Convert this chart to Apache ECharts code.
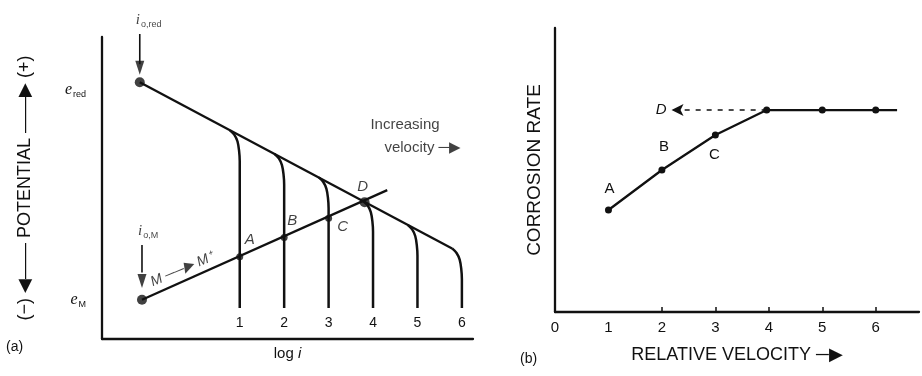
<!DOCTYPE html>
<html>
<head>
<meta charset="utf-8">
<script src="https://cdn.jsdelivr.net/npm/echarts@6/dist/echarts.min.js"></script>
<style>
  html, body { margin: 0; padding: 0; background: #fff; }
  #chart { width: 922px; height: 376px; }
</style>
</head>
<body>
<div id="chart"></div>
<script>
// (a) potential vs log i, arbitrary units
const logTicks = [1, 2, 3, 4, 5, 6];
const reductionLine = [[-1.25, 8.5], [5.78, 3.0]];
const oxidationLine = [[-1.2, 1.3], [4.32, 4.93]];
// one limiting-current branch per velocity (bends off the reduction line, then drops)
const branches = [
  [[0.78, 6.91], [0.88, 6.76], [0.95, 6.54], [0.985, 6.24], [1, 5.89], [1, 1.03]],
  [[1.78, 6.13], [1.88, 5.98], [1.95, 5.76], [1.985, 5.46], [2, 5.11], [2, 1.03]],
  [[2.78, 5.35], [2.88, 5.2], [2.95, 4.98], [2.985, 4.68], [3, 4.33], [3, 1.03]],
  [[3.78, 4.57], [3.88, 4.42], [3.95, 4.2], [3.985, 3.9], [4, 3.55], [4, 1.03]],
  [[4.78, 3.78], [4.88, 3.63], [4.95, 3.41], [4.985, 3.11], [5, 2.76], [5, 1.03]],
  [[5.78, 3.0], [5.88, 2.85], [5.95, 2.63], [5.985, 2.33], [6, 1.98], [6, 1.03]]
];
const startPoints = [[-1.25, 8.5], [-1.2, 1.3]];
const crossNames = ['A', 'B', 'C', 'D'];
const crossPoints = [[1, 2.72], [2, 3.36], [3, 4.0], [3.81, 4.53]];
const potentialMarks = [8.25, 1.3];
const potentialSubs = ['red', 'M'];
const ioRedArrow = [[-1.25, 10.1], [-1.25, 9.1]];
const ioMArrow = [[-1.2, 3.11], [-1.2, 2.2]];
const arrowHeads = [[-1.25, 8.98], [-1.2, 1.92]];

// (b) corrosion rate vs relative velocity
const velocityTicks = [0, 1, 2, 3, 4, 5, 6];
const velocity = [1, 2, 3, 3.96, 5, 6, 6.4];
const corrosionRate = [3.59, 5.0, 6.23, 7.11, 7.11, 7.11, 7.11];
const rateNames = ['A', 'B', 'C'];
const dashedFrom = [3.96, 7.11];
const dashedTo = [2.18, 7.11];

const ink = '#111';
const sans = '"Liberation Sans", Arial, sans-serif';
const chart = echarts.init(document.getElementById('chart'), null, { renderer: 'canvas' });

const subRich = {
  i: { fontStyle: 'italic', fontFamily: '"Liberation Serif", serif', fontSize: 15, color: ink },
  s: { fontSize: 9, color: ink, padding: [9, 0, 0, 1] }
};

const crossOffsets = [[10, -17], [8, -17], [14, 9], [-2, -15]];
const rateOffsets = [[1, -21], [2, -23], [-1, 20]];

const series = [
  { type: 'line', xAxisIndex: 0, yAxisIndex: 0, data: reductionLine, showSymbol: false,
    lineStyle: { color: ink, width: 2.3 } },
  { type: 'line', xAxisIndex: 0, yAxisIndex: 0, data: oxidationLine, showSymbol: false,
    lineStyle: { color: ink, width: 2.3 } }
];
branches.forEach(b => series.push({
  type: 'line', xAxisIndex: 0, yAxisIndex: 0, data: b, showSymbol: false, smooth: 0.3,
  lineStyle: { color: ink, width: 2.5 }
}));
series.push(
  { type: 'line', xAxisIndex: 0, yAxisIndex: 0, data: ioRedArrow, showSymbol: false, clip: false,
    lineStyle: { color: ink, width: 1.6 } },
  { type: 'line', xAxisIndex: 0, yAxisIndex: 0, data: ioMArrow, showSymbol: false, clip: false,
    lineStyle: { color: ink, width: 1.6 } },
  { type: 'scatter', xAxisIndex: 0, yAxisIndex: 0, data: arrowHeads, clip: false,
    symbol: 'triangle', symbolRotate: 180, symbolSize: [9, 14], itemStyle: { color: ink } },
  { type: 'scatter', xAxisIndex: 0, yAxisIndex: 0, data: startPoints, symbolSize: 10,
    itemStyle: { color: ink } },
  { type: 'scatter', xAxisIndex: 0, yAxisIndex: 0, clip: false, symbolSize: 7,
    itemStyle: { color: ink },
    data: crossPoints.map((p, i) => ({
      value: p, symbolSize: i === 3 ? 10 : 7,
      label: { show: true, formatter: crossNames[i], offset: crossOffsets[i] }
    })),
    label: { position: 'inside', fontSize: 15, fontStyle: 'italic', color: ink, fontFamily: sans } },
  // text annotations placed in data space
  { type: 'scatter', xAxisIndex: 0, yAxisIndex: 0, clip: false, symbolSize: 0, silent: true,
    data: [
      { value: ioRedArrow[0], label: { show: true, position: 'top', align: 'left', offset: [-4, 0],
        formatter: '{i|i}{s|o,red}', rich: subRich } },
      { value: ioMArrow[0], label: { show: true, position: 'top', align: 'left', offset: [-4, 0],
        formatter: '{i|i}{s|o,M}', rich: subRich } },
      { value: [-0.3, 2.3], label: { show: true, position: 'inside', rotate: 23,
        formatter: 'M ──▶ M⁺', fontSize: 14, fontStyle: 'italic' } },
      { value: [4.72, 7.09], label: { show: true, position: 'inside', formatter: 'Increasing', fontSize: 15 } },
      { value: [5.12, 6.32], label: { show: true, position: 'inside', formatter: 'velocity ─▶', fontSize: 15 } }
    ],
    label: { color: ink, fontFamily: sans } },
  // panel (b)
  { type: 'line', xAxisIndex: 1, yAxisIndex: 1,
    data: velocity.map((v, i) => ({
      value: [v, corrosionRate[i]],
      symbol: i === velocity.length - 1 ? 'none' : 'circle',
      label: i < 3 ? { show: true, formatter: rateNames[i], offset: rateOffsets[i] } : { show: false }
    })),
    symbolSize: 7, showAllSymbol: true,
    lineStyle: { color: ink, width: 2.3 }, itemStyle: { color: ink },
    label: { position: 'inside', fontSize: 15, color: ink, fontFamily: sans },
    markLine: {
      silent: true, symbol: ['none', 'arrow'], symbolSize: [9, 12],
      lineStyle: { color: ink, type: [5, 6], width: 1.5 },
      label: { show: true, position: 'end', formatter: 'D', distance: 5,
        fontSize: 15, fontStyle: 'italic', color: ink },
      data: [[{ coord: dashedFrom }, { coord: dashedTo }]]
    } }
);

const axisLine = { onZero: false, lineStyle: { color: ink, width: 2.3 } };

chart.setOption({
  animation: false,
  backgroundColor: '#fff',
  textStyle: { fontFamily: sans, color: ink },
  grid: [
    { left: 102, top: 37, width: 371, height: 302 },
    { left: 555, top: 28, width: 364, height: 284 }
  ],
  xAxis: [
    { gridIndex: 0, type: 'value', min: -2.1, max: 6.25, axisLine,
      axisTick: { show: false }, splitLine: { show: false },
      axisLabel: { customValues: logTicks, inside: true, margin: 9, fontSize: 14, color: ink },
      name: '{t|log }{i|i}', nameLocation: 'middle', nameGap: 7,
      nameTextStyle: { rich: { t: { fontSize: 15, color: ink }, i: { fontSize: 15, fontStyle: 'italic', color: ink } } } },
    { gridIndex: 1, type: 'value', min: 0, max: 6.81, axisLine,
      axisTick: { show: true, inside: true, length: 5, customValues: [2, 3, 4, 5, 6],
        lineStyle: { color: ink, width: 1.5 } },
      splitLine: { show: false },
      axisLabel: { customValues: velocityTicks, margin: 8, fontSize: 15, color: ink },
      name: 'RELATIVE VELOCITY ─▶', nameLocation: 'middle', nameGap: 34,
      nameTextStyle: { fontSize: 18, color: ink } }
  ],
  yAxis: [
    { gridIndex: 0, type: 'value', min: 0, max: 10, axisLine,
      axisTick: { show: false }, splitLine: { show: false },
      axisLabel: {
        customValues: potentialMarks, margin: 16,
        formatter: v => '{e|e}{s|' + potentialSubs[potentialMarks.indexOf(v)] + '}',
        rich: { e: { fontStyle: 'italic', fontFamily: '"Liberation Serif", serif', fontSize: 16, color: ink },
                s: { fontSize: 9, color: ink, padding: [9, 0, 0, 1] } }
      },
      name: '(−) ◀—— POTENTIAL ——▶ (+)', nameLocation: 'middle', nameRotate: 90, nameGap: 68,
      nameTextStyle: { fontSize: 18, color: ink } },
    { gridIndex: 1, type: 'value', min: 0, max: 10, axisLine,
      axisTick: { show: false }, splitLine: { show: false }, axisLabel: { show: false },
      name: 'CORROSION RATE', nameLocation: 'middle', nameRotate: 90, nameGap: 11,
      nameTextStyle: { fontSize: 19, color: ink } }
  ],
  graphic: [
    { type: 'text', left: 6, top: 340, style: { text: '(a)', fontSize: 14, fill: ink, fontFamily: sans } },
    { type: 'text', left: 520, top: 352, style: { text: '(b)', fontSize: 14, fill: ink, fontFamily: sans } }
  ],
  series
});
</script>
</body>
</html>
